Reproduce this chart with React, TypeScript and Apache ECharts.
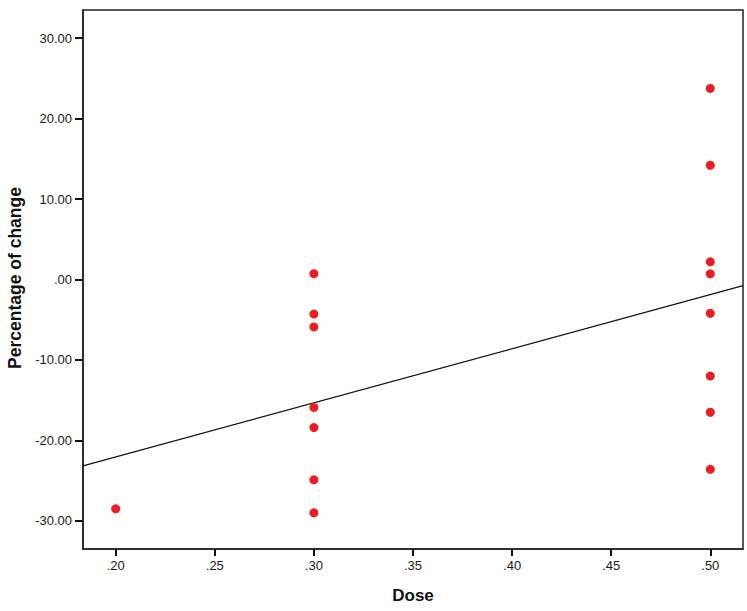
import React, { useEffect, useRef } from "react";
import * as echarts from "echarts";

const doseValues = [0.2, 0.3, 0.3, 0.3, 0.3, 0.3, 0.3, 0.3, 0.5, 0.5, 0.5, 0.5, 0.5, 0.5, 0.5, 0.5];
const changeValues = [-28.5, 0.72, -4.3, -5.9, -15.9, -18.4, -24.9, -29.0, 23.75, 14.2, 2.2, 0.7, -4.2, -12.0, -16.5, -23.6];
const fitLineX = [0.1835, 0.5165];
const fitLineY = [-23.17, -0.77];
const xTicks = [0.2, 0.25, 0.3, 0.35, 0.4, 0.45, 0.5];
const yTicks = [-30, -20, -10, 0, 10, 20, 30];

const FONT = "'Liberation Sans', Arial, sans-serif";

export default function App() {
  const ref = useRef<HTMLDivElement>(null);
  useEffect(() => {
    if (!ref.current) return;
    const chart = echarts.init(ref.current, null, { renderer: "svg" });
    const points = doseValues.map((d, i) => [d, changeValues[i]]);
    const fit = fitLineX.map((x, i) => [x, fitLineY[i]]);
    chart.setOption({
      animation: false,
      backgroundColor: "#ffffff",
      grid: {
        left: 83,
        right: 4,
        top: 10,
        bottom: 62,
        show: true,
        borderColor: "#222",
        borderWidth: 1.5,
        backgroundColor: "transparent",
      },
      xAxis: {
        type: "value",
        min: 0.1835,
        max: 0.5165,
        splitLine: { show: false },
        axisLine: { show: true, onZero: false, lineStyle: { color: "#222", width: 1.5 } },
        axisTick: { show: true, inside: false, length: 7, customValues: xTicks, lineStyle: { color: "#111", width: 2 } },
        axisLabel: {
          customValues: xTicks,
          color: "#1a1a1a",
          fontSize: 13,
          fontFamily: FONT,
          margin: 10,
          formatter: (v: number) => v.toFixed(2).replace(/^0/, ""),
        },
      },
      yAxis: {
        type: "value",
        min: -33.5,
        max: 33.5,
        splitLine: { show: false },
        axisLine: { show: true, onZero: false, lineStyle: { color: "#222", width: 1.5 } },
        axisTick: { show: true, inside: false, length: 8, customValues: yTicks, lineStyle: { color: "#111", width: 2 } },
        axisLabel: {
          customValues: yTicks,
          color: "#1a1a1a",
          fontSize: 13,
          fontFamily: FONT,
          margin: 11,
          formatter: (v: number) => (v === 0 ? ".00" : v.toFixed(2)),
        },
      },
      graphic: [
        {
          type: "text",
          x: 15,
          y: 278,
          rotation: Math.PI / 2,
          style: {
            text: "Percentage of change",
            fontSize: 17.5,
            fontWeight: "bold",
            fontFamily: FONT,
            fill: "#111",
            align: "center",
            verticalAlign: "middle",
          },
        },
        {
          type: "text",
          x: 413,
          y: 595,
          style: {
            text: "Dose",
            fontSize: 17,
            fontWeight: "bold",
            fontFamily: FONT,
            fill: "#111",
            align: "center",
            verticalAlign: "middle",
          },
        },
      ],
      series: [
        {
          type: "line",
          data: fit,
          showSymbol: false,
          symbol: "none",
          lineStyle: { color: "#111", width: 1.2 },
          silent: true,
          z: 2,
        },
        {
          type: "scatter",
          data: points,
          symbolSize: 9,
          itemStyle: { color: "#ec1c24", opacity: 1 },
          z: 3,
        },
      ],
    });
    return () => chart.dispose();
  }, []);
  return <div ref={ref} style={{ width: 747, height: 611, position: "absolute", left: 0, top: 0 }} />;
}
